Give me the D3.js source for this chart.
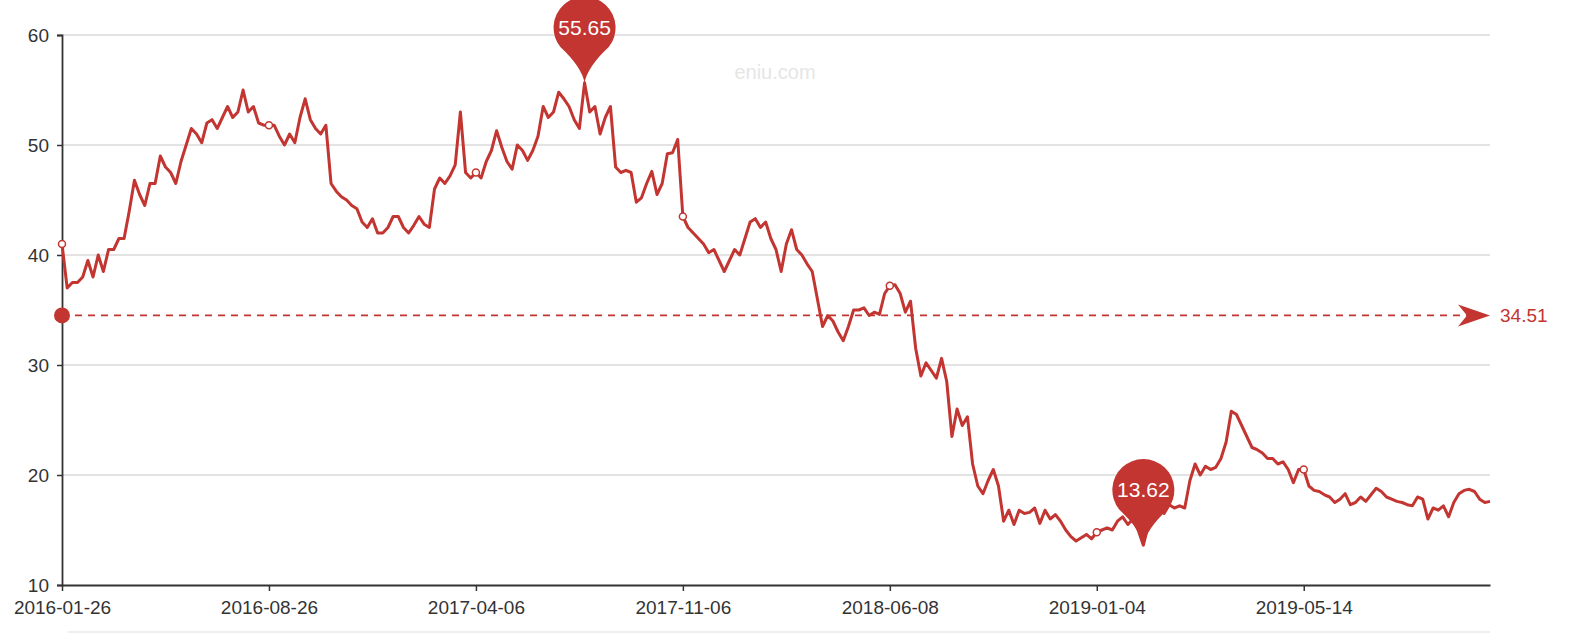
<!DOCTYPE html>
<html><head><meta charset="utf-8">
<script src="https://cdn.jsdelivr.net/npm/d3@7/dist/d3.min.js"></script>
<style>body{margin:0;background:#fff;}svg{font-family:"Liberation Sans",Arial,sans-serif;}</style>
</head><body>
<script>
// tick labels, one every 40 points
var tickLabels = ["2016-01-26","2016-08-26","2017-04-06","2017-11-06","2018-06-08","2019-01-04","2019-05-14"];
var tickStep = 40;
var yTicks = [10,20,30,40,50,60];
var meanValue = 34.51;
var maxValue = 55.65, minValue = 13.62;

var values = [
41,37,37.5,37.5,38,39.5,38,40,38.5,40.5,40.5,41.5,41.5,44,46.8,45.5,44.5,46.5,46.5,49,48,47.5,46.5,48.5,50,51.5,51,50.2,52,52.3,51.5,52.5,53.5,52.5,53,55,53,53.5,52,51.8,
51.8,51.8,50.8,50,51,50.2,52.5,54.2,52.3,51.5,51,51.8,46.5,45.8,45.3,45,44.5,44.2,43,42.5,43.3,42,42,42.5,43.5,43.5,42.5,42,42.7,43.5,42.8,42.5,46,47,46.5,47.2,48.2,53,47.5,47,
47.5,47,48.5,49.5,51.3,49.8,48.5,47.8,50,49.5,48.6,49.5,50.8,53.5,52.5,53,54.8,54.2,53.5,52.3,51.5,55.65,53,53.5,51,52.5,53.5,48,47.5,47.7,47.5,44.8,45.2,46.5,47.6,45.5,46.5,49.2,49.3,50.5,
43.5,42.5,42,41.5,41,40.2,40.5,39.5,38.5,39.5,40.5,40,41.5,43,43.3,42.5,43,41.5,40.5,38.5,41,42.3,40.5,40,39.2,38.5,36,33.5,34.5,34,33,32.2,33.5,35,35,35.2,34.5,34.8,34.6,36.5,
37.2,37.3,36.5,34.8,35.8,31.5,29,30.2,29.5,28.8,30.6,28.5,23.5,26,24.5,25.3,21,19,18.3,19.5,20.5,19,15.8,16.8,15.5,16.8,16.5,16.6,17,15.6,16.8,16,16.4,15.8,15,14.4,14,14.3,14.6,14.2,
14.8,15,15.2,15,15.8,16.2,15.5,16,15,13.62,15.5,16.3,17,16.5,17.3,17,17.2,17,19.5,21,20,20.8,20.5,20.7,21.5,23,25.8,25.5,24.5,23.5,22.5,22.3,22,21.5,21.5,21,21.2,20.5,19.3,20.5,
20.5,19,18.6,18.5,18.2,18,17.5,17.8,18.3,17.3,17.5,18,17.6,18.2,18.8,18.5,18,17.8,17.6,17.5,17.3,17.2,18,17.8,16,17,16.8,17.2,16.2,17.5,18.3,18.6,18.7,18.5,17.8,17.5,17.6
];

var W = 1592, H = 642, red = "#c23531";
var svg = d3.select("body").append("svg").attr("width", W).attr("height", H);

var x = d3.scaleLinear().domain([0, values.length - 1]).range([62, 1490]);
var y = d3.scaleLinear().domain([10, 60]).range([585, 35]);

// watermark
svg.append("text").attr("x", 775).attr("y", 79).attr("text-anchor", "middle")
  .attr("font-size", 20).attr("fill", "#e6e6e6").text("eniu.com");

// grid
svg.selectAll(".grid").data(yTicks.slice(1)).enter().append("line")
  .attr("x1", 62).attr("x2", 1490).attr("y1", d => y(d)).attr("y2", d => y(d))
  .attr("stroke", "#c8c8c8").attr("stroke-width", 1.2);

// y axis
var yAxis = svg.append("g").attr("transform", "translate(62,0)")
  .call(d3.axisLeft(y).tickValues(yTicks).tickSize(5).tickPadding(8));
yAxis.select(".domain").attr("stroke", "#333").attr("stroke-width", 1.8);
yAxis.selectAll(".tick line").attr("stroke", "#333").attr("stroke-width", 1.5);
yAxis.selectAll("text").attr("font-size", 19).attr("fill", "#333");

// x axis
var tickIdx = tickLabels.map((d, i) => i * tickStep);
var xAxis = svg.append("g").attr("transform", "translate(0,585)")
  .call(d3.axisBottom(x).tickValues(tickIdx).tickFormat((d, i) => tickLabels[i]).tickSize(6).tickPadding(10).tickSizeOuter(0));
xAxis.select(".domain").attr("stroke", "#333").attr("stroke-width", 1.8);
xAxis.selectAll(".tick line").attr("stroke", "#333").attr("stroke-width", 1.5);
xAxis.selectAll("text").attr("font-size", 19).attr("fill", "#333");

// faint slider frame at bottom
svg.append("line").attr("x1", 68).attr("x2", 1490).attr("y1", 632).attr("y2", 632)
  .attr("stroke", "#ddd");

// line
svg.append("path").datum(values)
  .attr("d", d3.line().x((d, i) => x(i)).y(d => y(d)))
  .attr("fill", "none").attr("stroke", red).attr("stroke-width", 3).attr("stroke-linejoin", "round");

// hollow symbols at labelled points
svg.selectAll(".sym").data(tickIdx).enter().append("circle")
  .attr("cx", d => x(d)).attr("cy", d => y(values[d])).attr("r", 3.5)
  .attr("fill", "#fff").attr("stroke", red).attr("stroke-width", 1.5);

// mean line
var my = y(meanValue);
svg.append("line").attr("x1", 62).attr("x2", 1478).attr("y1", my).attr("y2", my)
  .attr("stroke", red).attr("stroke-width", 1.6).attr("stroke-dasharray", "7,6");
svg.append("circle").attr("cx", 62).attr("cy", my).attr("r", 8).attr("fill", red);
svg.append("path").attr("d", "M1490," + my + " L1458," + (my - 11) + " L1467," + my + " L1458," + (my + 11) + " Z")
  .attr("fill", red);
svg.append("text").attr("x", 1500).attr("y", my + 7).attr("font-size", 19).attr("fill", red).text(meanValue);

// pins
function pin(v) {
  var i = values.indexOf(v);
  var px = x(i), py = y(v), h = 55, r = 31;
  var g = svg.append("g").attr("transform", "translate(" + px + "," + py + ")");
  var lx = -r * 0.78, ly = -h + r * 0.62;
  g.append("path").attr("d", "M0,0 Q-3,-16 " + lx + "," + ly + " A" + r + "," + r + " 0 1 1 " + (-lx) + "," + ly + " Q3,-16 0,0 Z")
    .attr("fill", red);
  g.append("text").attr("y", -h + 7).attr("text-anchor", "middle").attr("font-size", 21)
    .attr("fill", "#fff").attr("stroke", red).attr("stroke-width", 0.6).attr("paint-order", "stroke").text(v.toFixed(2));
}
pin(maxValue);
pin(minValue);
</script>
</body></html>
